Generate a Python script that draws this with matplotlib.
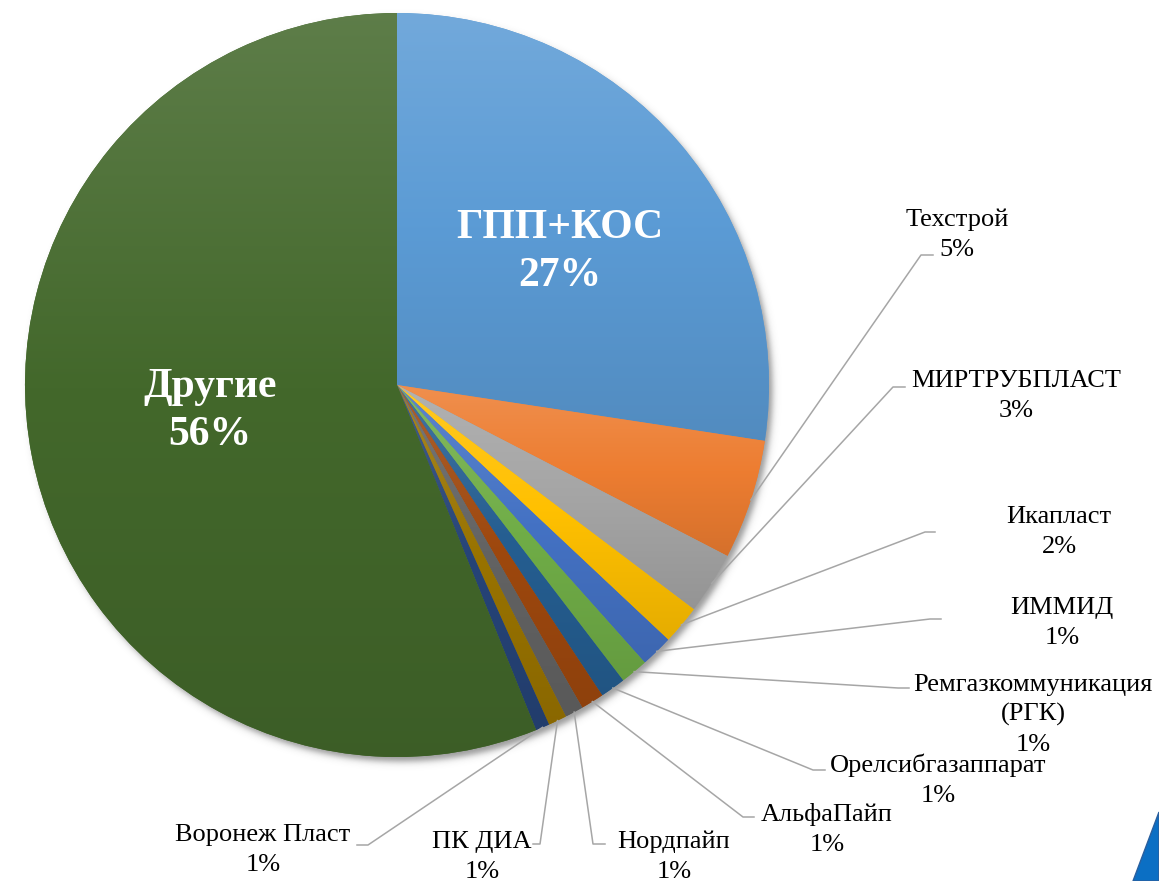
import numpy as np
import matplotlib.pyplot as plt
from matplotlib.patches import Polygon
from matplotlib.colors import to_rgb

W, H = 1159, 881

companies = ['ГПП+КОС', 'Техстрой', 'МИРТРУБПЛАСТ', 'Икапласт', 'ИММИД',
             'Ремгазкоммуникация\n(РГК)', 'Орелсибгазаппарат', 'АльфаПайп',
             'Нордпайп', 'ПК ДИА', 'Воронеж Пласт', 'Другие']
shares = [27.4, 5.2, 2.7, 1.7, 1.4, 1.2, 1.1, 1.0, 0.8, 0.8, 0.6, 56.1]
colors = ['#5B9BD5', '#ED7D31', '#A5A5A5', '#FFC000', '#4472C4', '#70AD47',
          '#255E91', '#9E480E', '#636363', '#997300', '#264478', '#43682B']

# where the outside labels sit (image pixels): text x, first line y, leader corner, leader end
label_pos = {
    'Техстрой': (957, 217, (921, 255), (933, 255)),
    'МИРТРУБПЛАСТ': (1016, 378, (893, 387), (905, 387)),
    'Икапласт': (1059, 514, (925, 532), (935, 532)),
    'ИММИД': (1062, 605, (930, 619), (941, 619)),
    'Ремгазкоммуникация\n(РГК)': (1033, 682, (898, 688), (909, 688)),
    'Орелсибгазаппарат': (938, 763, (813, 770), (825, 770)),
    'АльфаПайп': (827, 812, (743, 817), (754, 817)),
    'Нордпайп': (674, 839, (593, 844), (605, 844)),
    'ПК ДИА': (482, 839, (540, 844), (533, 844)),
    'Воронеж Пласт': (263, 832, (368, 845), (357, 845)),
}
# big labels inside the pie: text x, first line y
inside_pos = {'ГПП+КОС': (560, 224), 'Другие': (210, 383)}

plt.rcParams['font.family'] = ['Liberation Serif', 'DejaVu Serif']


def img(x, y):
    # image pixel -> data coords (y up)
    return x, H - y


fig = plt.figure(figsize=(W / 100, H / 100), dpi=100)
ax = fig.add_axes([0, 0, 1, 1])

cx, cy = img(397, 385)
R = 372

wedges, _ = ax.pie(shares, colors=colors, startangle=90, counterclock=False,
                   center=(cx, cy), radius=R, wedgeprops=dict(linewidth=0))

# soft shadow under the pie
gx = np.arange(cx - R - 30, cx + R + 40)
gy = np.arange(cy - R - 40, cy + R + 30)
X, Y = np.meshgrid(gx, gy)
d = np.hypot(X - (cx + 4), Y - (cy - 5))
shadow = np.zeros(X.shape + (4,))
shadow[..., :3] = 0.2
shadow[..., 3] = 0.5 * 0.5 * (1 - np.tanh((d - R) / 4.0))
ax.imshow(shadow, extent=(gx[0], gx[-1], gy[0], gy[-1]), origin='lower',
          aspect='auto', zorder=0.5)

# gradient fill, lighter on top
t = np.linspace(0, 1, 120)[:, None]
for w, c in zip(wedges, colors):
    base = np.array(to_rgb(c))
    top = base + (1 - base) * 0.14
    bot = base * 0.9
    grad = np.where(t < 0.5, top + (base - top) * (t / 0.5),
                    base + (bot - base) * ((t - 0.5) / 0.5))
    v = w.get_path().vertices
    im = ax.imshow(grad[:, None, :], extent=(v[:, 0].min(), v[:, 0].max(), v[:, 1].min(), v[:, 1].max()),
                   origin='upper', aspect='auto', interpolation='bilinear', zorder=1.1)
    im.set_clip_path(w)

# labels
for w, name, s in zip(wedges, companies, shares):
    pct = f'{round(s)}%'
    if name in inside_pos:
        x, y = inside_pos[name]
        for i, line in enumerate([name, pct]):
            ax.text(*img(x, y + i * 48 + 13.8), line, ha='center', va='baseline',
                    fontsize=30, fontweight='bold', color='white', zorder=3)
        continue
    x, y, corner, end = label_pos[name]
    for i, line in enumerate(name.split('\n') + [pct]):
        ax.text(*img(x, y + i * 30 + 8.7), line, ha='center', va='baseline',
                fontsize=19, color='black', zorder=3)
    ang = np.deg2rad((w.theta1 + w.theta2) / 2)
    sx, sy = cx + R * np.cos(ang), cy + R * np.sin(ang)
    px, py = zip((sx, sy), img(*corner), img(*end))
    ax.plot(px, py, color='#A6A6A6', lw=1.1, zorder=2)

# corner of the slide decoration
ax.add_patch(Polygon([img(1133, 881), img(1159, 812), img(1159, 881)], closed=True,
                     facecolor='#0B6FC4', edgecolor='#2A5F9E', lw=1, zorder=2))

ax.set_xlim(0, W)
ax.set_ylim(0, H)
ax.axis('off')

fig.savefig('out.png', dpi=100)
